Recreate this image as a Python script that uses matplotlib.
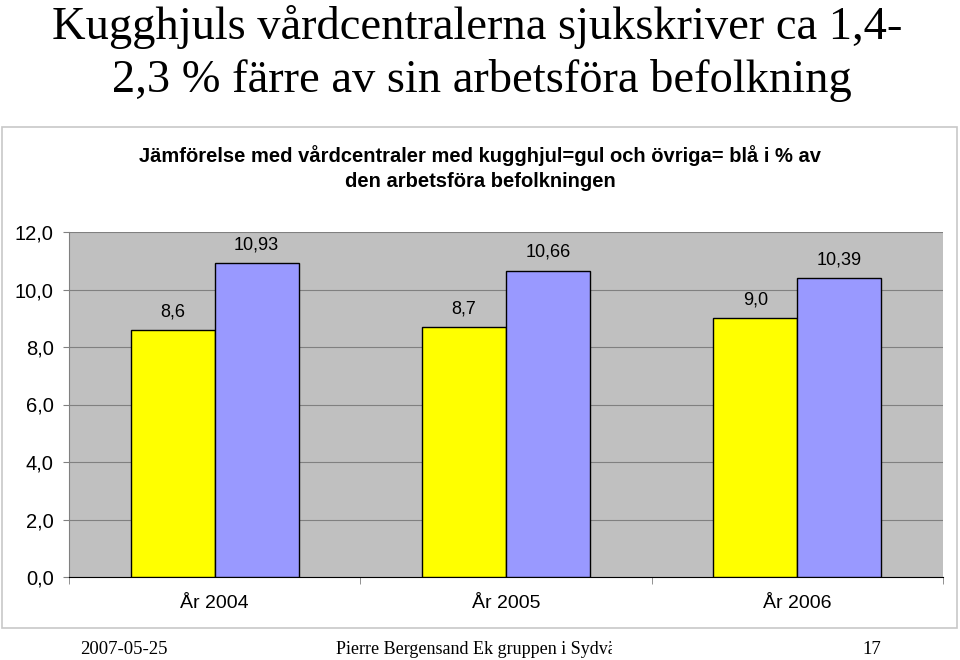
import matplotlib.pyplot as plt
from matplotlib.patches import Rectangle
import numpy as np

years = ["År 2004", "År 2005", "År 2006"]
kugghjul = [8.6, 8.7, 9.0]
ovriga = [10.93, 10.66, 10.39]
kugghjul_labels = ["8,6", "8,7", "9,0"]
ovriga_labels = ["10,93", "10,66", "10,39"]
yticks = [0, 2, 4, 6, 8, 10, 12]

fig = plt.figure(figsize=(9.6, 6.6), dpi=100)
fig.patch.set_facecolor("white")

# slide title
serif = "Liberation Serif"
fig.text(52 / 960, 1 - 27 / 660, "Kugghjuls vårdcentralerna sjukskriver ca 1,4-",
         family=serif, fontsize=33.5, ha="left", va="center")
fig.text(112 / 960, 1 - 80 / 660, "2,3 % färre av sin arbetsföra befolkning",
         family=serif, fontsize=33.5, ha="left", va="center")

# chart frame
fig.patches.append(Rectangle((2 / 960, 1 - 628 / 660), 955 / 960, 501 / 660,
                             transform=fig.transFigure, fill=False,
                             edgecolor="#c8c8c8", linewidth=1.2))

fig.text(480 / 960, 1 - 168 / 660,
         "Jämförelse med vårdcentraler med kugghjul=gul och övriga= blå i % av\n"
         "den arbetsföra befolkningen",
         family="Liberation Sans", fontsize=14.5, fontweight="bold",
         ha="center", va="center", linespacing=1.35)

ax = fig.add_axes([69 / 960, 1 - 577 / 660, 874 / 960, 345 / 660])
ax.set_facecolor("#c0c0c0")

x = np.arange(len(years))
w = 0.288
b1 = ax.bar(x - w / 2, kugghjul, w, color="#ffff00", edgecolor="black", linewidth=1, zorder=3)
b2 = ax.bar(x + w / 2, ovriga, w, color="#9999ff", edgecolor="black", linewidth=1, zorder=3)

for rect, lab in zip(b1, kugghjul_labels):
    ax.annotate(lab, (rect.get_x() + rect.get_width() / 2, rect.get_height()),
                xytext=(0, 13), textcoords="offset points", ha="center", va="center",
                family="Liberation Sans", fontsize=13)
for rect, lab in zip(b2, ovriga_labels):
    ax.annotate(lab, (rect.get_x() + rect.get_width() / 2, rect.get_height()),
                xytext=(0, 13), textcoords="offset points", ha="center", va="center",
                family="Liberation Sans", fontsize=13)

ax.set_xlim(-0.5, 2.5)
ax.set_ylim(0, 12)
ax.set_yticks(yticks)
ax.set_yticklabels([f"{v:.1f}".replace(".", ",") for v in yticks],
                   family="Liberation Sans", fontsize=14.5)
ax.yaxis.grid(True, color="#808080", linewidth=0.8, zorder=0)
ax.set_axisbelow(True)

ax.set_xticks(x)
ax.set_xticklabels(years, family="Liberation Sans", fontsize=14)
ax.tick_params(axis="x", length=0, pad=13)
ax.set_xticks([-0.5, 0.5, 1.5, 2.5], minor=True)
ax.tick_params(axis="x", which="minor", length=5, direction="out", color="#808080")
ax.tick_params(axis="y", length=4, color="#808080", pad=7)

for side in ["top", "right"]:
    ax.spines[side].set_visible(False)
ax.spines["left"].set_color("#808080")
ax.spines["bottom"].set_color("black")

# footer
fig.text(80 / 960, 1 - 650 / 660, "2007-05-25", family=serif, fontsize=13.5,
         ha="left", va="center")
t = fig.text(336 / 960, 1 - 650 / 660, "Pierre Bergensand Ek gruppen i Sydväst",
             family=serif, fontsize=13, ha="left", va="center")
clip = Rectangle((0, 0), 612 / 960, 1, transform=fig.transFigure)
t.set_clip_path(clip)
fig.text(881 / 960, 1 - 650 / 660, "17", family=serif, fontsize=13.5,
         ha="right", va="center")

fig.savefig("out.png", dpi=100)
